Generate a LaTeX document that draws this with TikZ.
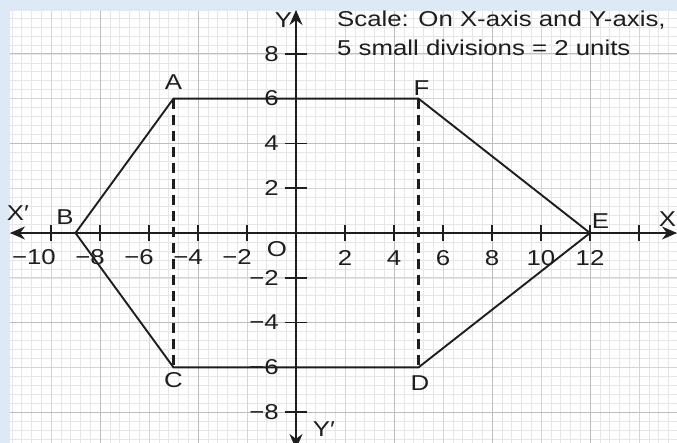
\documentclass[tikz,border=0pt]{standalone}
\usepackage{fontspec}
\setmainfont{Liberation Sans}[FakeStretch=1.2]
\usetikzlibrary{arrows.meta}
\definecolor{bordercol}{RGB}{221,233,246}
\definecolor{minorgrid}{RGB}{230,230,230}
\definecolor{midgrid}{RGB}{212,212,212}
\definecolor{majorgrid}{RGB}{190,190,190}
\definecolor{ink}{RGB}{30,30,30}
\begin{document}
\begin{tikzpicture}[x=24.5pt,y=22.4pt,
  lbl/.style={inner sep=0pt,text=ink,font=\fontsize{21.5pt}{26pt}\selectfont},
  edgeline/.style={draw=ink,line width=1.9pt,line join=miter},
  dropline/.style={draw=ink,line width=3pt,dash pattern=on 10pt off 6pt},
  axisline/.style={draw=ink,line width=1.9pt},
  tickmark/.style={draw=ink,line width=1.6pt},
  tip/.tip={Stealth[length=15pt,width=13pt]}]
% canvas
\useasboundingbox (-296pt,-210pt) rectangle (381pt,233pt);
\fill[bordercol] (-296pt,-210pt) rectangle (381pt,233pt);
\fill[white] (-286pt,-210pt) rectangle (381pt,222pt);
% graph paper
\draw[minorgrid,line width=0.5pt,xstep=9.8pt,ystep=8.96pt] (-286pt,-210pt) grid (381pt,222pt);
\draw[midgrid,line width=0.6pt,xstep=49pt,ystep=44.8pt] (-286pt,-210pt) grid (381pt,222pt);
\draw[majorgrid,line width=0.9pt,xstep=98pt,ystep=89.6pt] (-286pt,-210pt) grid (381pt,222pt);
% axes
\coordinate (xl) at (-286pt,0);
\coordinate (xr) at (381pt,0);
\coordinate (yt) at (0,223pt);
\coordinate (yb) at (0,-216pt);
\draw[axisline,tip-tip] (xl) -- (xr);
\draw[axisline,tip-tip] (yb) -- (yt);
\foreach \v in {-10,-8,-6,-4,-2,2,4,6,8,10,12,14}
  \draw[tickmark] (\v,-8pt) -- (\v,8pt);
\foreach \v in {-8,-6,-4,-2,2,4,6,8}
  \draw[tickmark] (-11pt,\v) -- (11pt,\v);
% tick labels
\foreach \v in {2,4,6,8,10,12}
  \node[lbl] (xl\v) at (\v,-25pt) {\v};
\node[lbl,anchor=east] (xm10) at (-240pt,-24pt) {−10};
\node[lbl,anchor=east] (xm8) at (-191pt,-24pt) {−8};
\node[lbl,anchor=east] (xm6) at (-142pt,-24pt) {−6};
\node[lbl,anchor=east] (xm4) at (-93pt,-24pt) {−4};
\node[lbl,anchor=east] (xm2) at (-44pt,-24pt) {−2};
\foreach \v in {2,4,6,8}
  \node[lbl,anchor=east] (yl\v) at (-17pt,\v) {\v};
\foreach \v in {2,4,6,8}
  \node[lbl,anchor=east] (ym\v) at (-17pt,-\v) {−\v};
\node[lbl] (orig) at (-19pt,-16.5pt) {O};
% axis names
\node[lbl] (nXp) at (-278pt,20pt) {X′};
\node[lbl] (nX) at (371.5pt,13.5pt) {X};
\node[lbl] (nY) at (-12.5pt,213pt) {Y};
\node[lbl] (nYp) at (28pt,-196pt) {Y′};
% hexagon
\coordinate (A) at (-5,6);
\coordinate (B) at (-9,0);
\coordinate (C) at (-5,-6);
\coordinate (D) at (5,-6);
\coordinate (E) at (12,0);
\coordinate (F) at (5,6);
\draw[dropline] (A) -- (C);
\draw[dropline] (F) -- (D);
\draw[edgeline] (A) -- (B) -- (C) -- (D) -- (E) -- (F) -- cycle;
\node[lbl] (lA) at (-122.5pt,150.5pt) {A};
\node[lbl] (lF) at (125.5pt,144.5pt) {F};
\node[lbl] (lB) at (-231pt,15.5pt) {B};
\node[lbl] (lC) at (-122.5pt,-147.5pt) {C};
\node[lbl] (lD) at (124pt,-150.5pt) {D};
\node[lbl] (lE) at (304.5pt,11.5pt) {E};
% scale note
\node[lbl,anchor=base west] (s1) at (41pt,206pt) {Scale: On X-axis and Y-axis,};
\node[lbl,anchor=base west] (s2) at (41pt,177pt) {5 small divisions = 2 units};
\end{tikzpicture}
\end{document}
